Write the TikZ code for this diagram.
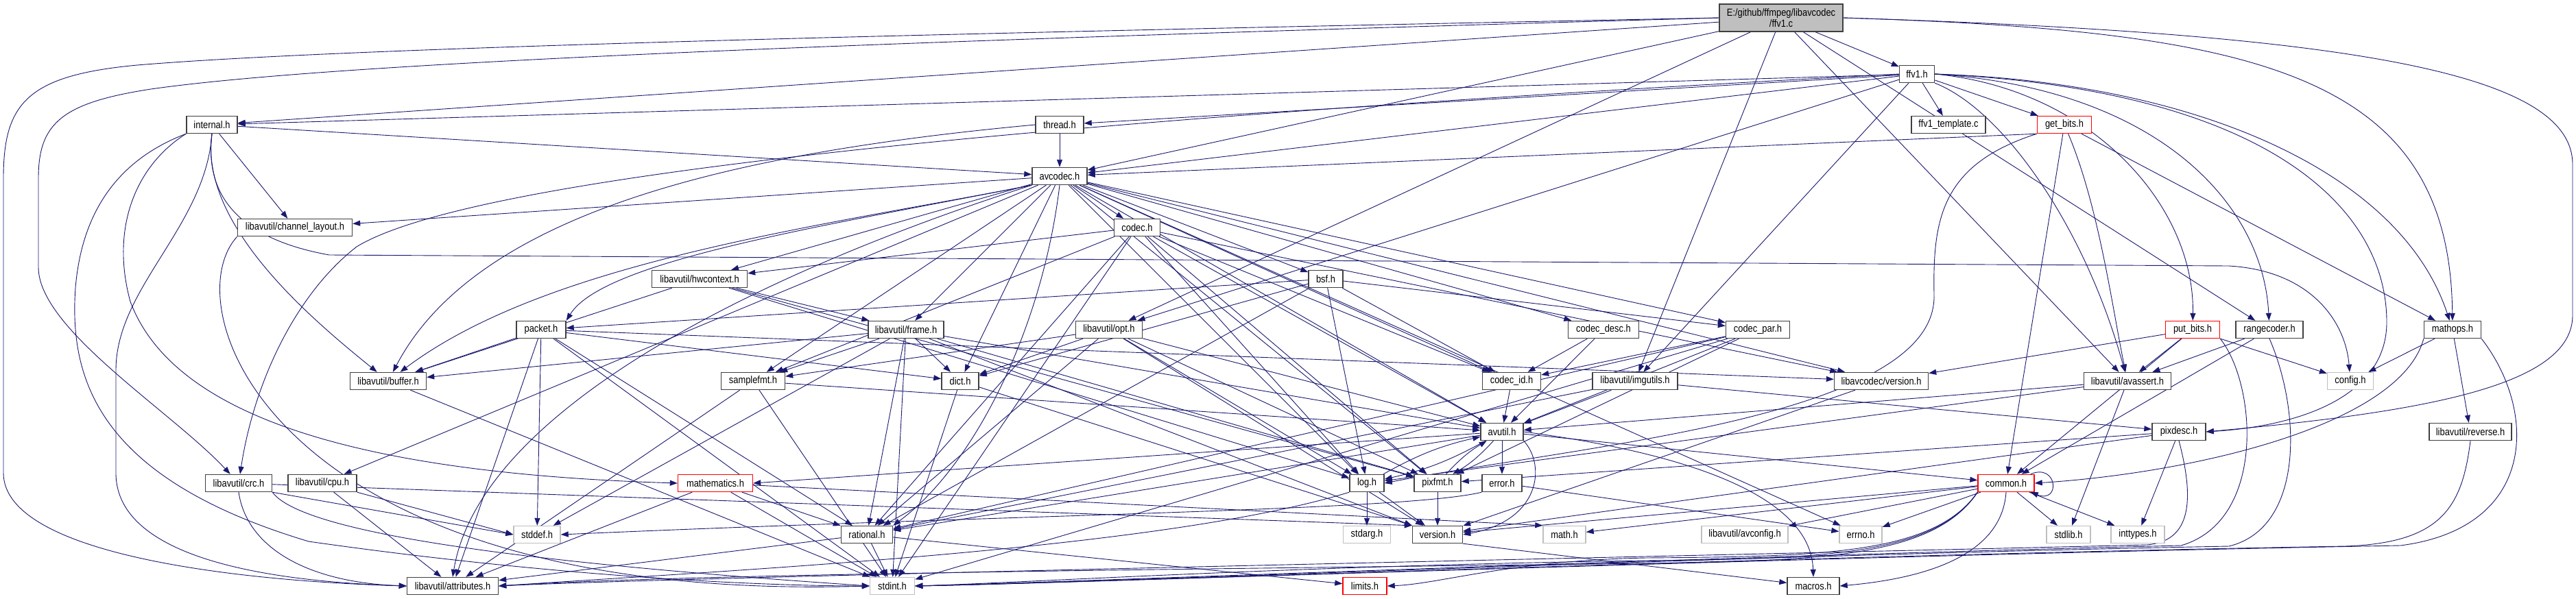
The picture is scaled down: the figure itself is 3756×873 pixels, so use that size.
\documentclass[tikz,border=0pt]{standalone}
\usepackage{fontspec}
\setmainfont[FakeStretch=0.86]{Liberation Sans}
\usetikzlibrary{arrows.meta}
\pgfdeclarelayer{bg}
\pgfsetlayers{bg,main}
\definecolor{edgec}{HTML}{191970}
\definecolor{nbord}{HTML}{404040}
\definecolor{gbord}{HTML}{BFBFBF}
\definecolor{rootfill}{HTML}{BFBFBF}
\definecolor{redb}{HTML}{FF0000}
\begin{document}
\begin{tikzpicture}[x=1pt,y=-1pt,
  box/.style={draw=nbord, line width=1.4pt, fill=white, minimum height=25, inner sep=0pt, font=\fontsize{15}{18}\selectfont, text=black},
  redbox/.style={box, draw=redb},
  graybox/.style={box, draw=gbord},
  e/.style={draw=edgec, line width=0.9pt, -{Triangle[length=11pt,width=8pt]}}]
\useasboundingbox (0,0) rectangle (3756,873);
% nodes
\node[box,minimum width=180,minimum height=40,fill=rootfill,align=center,font=\fontsize{15}{16}\selectfont] (root) at (2597,26) {E:/github/ffmpeg/libavcodec\\/ffv1.c};
\node[box,minimum width=51] (ffv1h) at (2795,108) {ffv1.h};
\node[box,minimum width=74] (internal) at (309,182) {internal.h};
\node[box,minimum width=70] (thread) at (1545,182) {thread.h};
\node[box,minimum width=108] (template) at (2841,182) {ffv1\_template.c};
\node[redbox,minimum width=79] (getbits) at (3010,182) {get\_bits.h};
\node[box,minimum width=80] (avcodec) at (1545,257) {avcodec.h};
\node[box,minimum width=167] (chlayout) at (430,332) {libavutil/channel\_layout.h};
\node[box,minimum width=67] (codec) at (1658,332) {codec.h};
\node[box,minimum width=139] (hwctx) at (1020,407) {libavutil/hwcontext.h};
\node[box,minimum width=50] (bsf) at (1933,407) {bsf.h};
\node[box,minimum width=72] (packet) at (789,481) {packet.h};
\node[box,minimum width=110] (frame) at (1321,481) {libavutil/frame.h};
\node[box,minimum width=97] (opt) at (1617,481) {libavutil/opt.h};
\node[box,minimum width=103] (codecdesc) at (2338,481) {codec\_desc.h};
\node[box,minimum width=93] (codecpar) at (2563,481) {codec\_par.h};
\node[redbox,minimum width=79] (putbits) at (3197,481) {put\_bits.h};
\node[box,minimum width=98] (rangecoder) at (3309,481) {rangecoder.h};
\node[box,minimum width=83] (mathops) at (3576,481) {mathops.h};
\node[box,minimum width=111] (buffer) at (566,556) {libavutil/buffer.h};
\node[box,minimum width=93] (samplefmt) at (1098,556) {samplefmt.h};
\node[box,minimum width=54] (dict) at (1400,556) {dict.h};
\node[box,minimum width=85] (codecid) at (2204,556) {codec\_id.h};
\node[box,minimum width=124] (imgutils) at (2384,556) {libavutil/imgutils.h};
\node[box,minimum width=137] (lcversion) at (2743,556) {libavcodec/version.h};
\node[box,minimum width=127] (avassert) at (3102,556) {libavutil/avassert.h};
\node[graybox,minimum width=67] (config) at (3427,556) {config.h};
\node[box,minimum width=62] (avutil) at (2190,630) {avutil.h};
\node[box,minimum width=78] (pixdesc) at (3177,630) {pixdesc.h};
\node[box,minimum width=120] (reverse) at (3602,630) {libavutil/reverse.h};
\node[box,minimum width=97] (crc) at (348,705) {libavutil/crc.h};
\node[box,minimum width=100] (cpu) at (470,705) {libavutil/cpu.h};
\node[redbox,minimum width=109] (mathematics) at (1043,705) {mathematics.h};
\node[box,minimum width=50] (log) at (1993,705) {log.h};
\node[box,minimum width=68] (pixfmt) at (2096,705) {pixfmt.h};
\node[box,minimum width=58] (error) at (2190,705) {error.h};
\node[redbox,minimum width=82] (common) at (2925,705) {common.h};
\node[graybox,minimum width=68] (stddef) at (783,780) {stddef.h};
\node[box,minimum width=75] (rational) at (1264,780) {rational.h};
\node[graybox,minimum width=69] (stdarg) at (1993,780) {stdarg.h};
\node[box,minimum width=73] (version) at (2096,780) {version.h};
\node[graybox,minimum width=62] (math) at (2281,780) {math.h};
\node[graybox,minimum width=126] (avconfig) at (2544,780) {libavutil/avconfig.h};
\node[graybox,minimum width=62] (errno) at (2713,780) {errno.h};
\node[graybox,minimum width=64] (stdlib) at (3016,780) {stdlib.h};
\node[graybox,minimum width=78] (inttypes) at (3117,780) {inttypes.h};
\node[box,minimum width=133] (attributes) at (660,855) {libavutil/attributes.h};
\node[graybox,minimum width=65] (stdint) at (1301,855) {stdint.h};
\node[redbox,minimum width=64] (limits) at (1990,855) {limits.h};
\node[box,minimum width=76] (macros) at (2644,855) {macros.h};
\begin{pgfonlayer}{bg}
\fill[white] (0,0) rectangle (3756,873);
% root
\draw[e] (root) -- (ffv1h);
\draw[e] (root) -- (internal);
\draw[e] (root) -- (avcodec);
\draw[e] (root) -- (opt);
\draw[e] (root) -- (imgutils);
\draw[e] (root) -- (avassert);
\draw[e] (root) -- (rangecoder);
\draw[e] (root.east) .. controls (3300,45) and (3572,110) .. (mathops);
\draw[e] (root.east) .. controls (3450,50) and (3751,110) .. (3751,240) -- (3751,460) .. controls (3751,560) and (3550,600) .. (pixdesc.east);
\draw[e] (root.west) .. controls (1300,50) and (500,70) .. (200,95) .. controls (40,110) and (5,150) .. (5,260) -- (5,690) .. controls (5,810) and (350,848) .. (attributes.west);
\draw[e] (root.west) .. controls (1300,60) and (500,90) .. (220,130) .. controls (90,150) and (56,180) .. (56,260) -- (56,390) .. controls (56,480) and (250,600) .. (crc);
% ffv1.h
\draw[e] (ffv1h) -- (internal);
\draw[e] (ffv1h) -- (avcodec);
\draw[e] (ffv1h) -- (thread);
\draw[e] (ffv1h) -- (template);
\draw[e] (ffv1h) -- (getbits);
\draw[e] (ffv1h.east) .. controls (3050,130) and (3200,300) .. (putbits);
\draw[e] (ffv1h.east) .. controls (3150,130) and (3300,300) .. (rangecoder);
\draw[e] (ffv1h.east) .. controls (3200,120) and (3500,250) .. (mathops);
\draw[e] (ffv1h.south east) .. controls (2920,160) and (3040,330) .. (avassert);
\draw[e] (ffv1h) -- (opt);
\draw[e] (ffv1h) -- (imgutils);
\draw[e] (ffv1h.east) .. controls (3300,130) and (3480,300) .. (3480,470) .. controls (3480,580) and (3350,622) .. (pixdesc.east);
\draw[e] (ffv1h.west) .. controls (1600,170) and (700,250) .. (520,360) .. controls (430,430) and (370,560) .. (crc);
% internal.h
\draw[e] (internal) -- (avcodec);
\draw[e] (internal) -- (chlayout);
\draw[e] (internal.south) .. controls (300,270) and (330,345) .. (480,372) -- (3250,388) .. controls (3370,395) and (3420,470) .. (config);
\draw[e] (internal.south) .. controls (290,330) and (460,470) .. (buffer);
\draw[e] (internal.south west) .. controls (180,230) and (120,300) .. (110,420) .. controls (100,560) and (150,700) .. (450,790) .. controls (800,840) and (1100,855) .. (stdint.west);
\draw[e] (internal.south west) .. controls (200,240) and (160,330) .. (190,440) .. controls (250,600) and (500,690) .. (mathematics.west);
\draw[e] (internal.south) .. controls (300,330) and (169,420) .. (169,540) -- (169,690) .. controls (169,830) and (450,850) .. (attributes.west);
% thread.h
\draw[e] (thread) -- (avcodec);
\draw[e] (thread.west) .. controls (1100,220) and (700,300) .. (buffer);
% get_bits.h
\draw[e] (getbits.south west) -- (avcodec);
\draw[e] (getbits.south west) .. controls (2830,240) and (2818,320) .. (2820,430) .. controls (2825,610) and (2300,650) .. (log.east);
\draw[e] (getbits) -- (common);
\draw[e] (getbits) .. controls (3060,300) and (3080,450) .. (avassert);
\draw[e] (getbits) -- (mathops);
% put_bits.h
\draw[e] (putbits) -- (config);
\draw[e] (putbits) -- (avassert);
\draw[e] (putbits) -- (lcversion);
\draw[e] (putbits) -- (common);
\draw[e] (putbits.south east) .. controls (3290,560) and (3305,760) .. (3180,796) .. controls (2500,812) and (1600,848) .. (stdint.east);
% rangecoder.h
\draw[e] (rangecoder) -- (avassert);
\draw[e] (rangecoder) -- (common);
\draw[e] (rangecoder.south) .. controls (3355,600) and (3360,770) .. (3250,797) .. controls (2550,810) and (1600,850) .. (stdint.east);
% mathops.h
\draw[e] (mathops) -- (config);
\draw[e] (mathops) -- (reverse);
\draw[e] (mathops.south west) .. controls (3500,620) and (3200,690) .. (common.east);
\draw[e] (mathops.south east) .. controls (3700,600) and (3700,770) .. (3500,796) .. controls (2700,810) and (1600,850) .. (stdint.east);
% reverse.h
\draw[e] (reverse.south) .. controls (3590,740) and (3560,792) .. (3420,797) .. controls (2650,810) and (1600,850) .. (stdint.east);
% pixdesc.h
\draw[e] (pixdesc) -- (inttypes);
\draw[e] (pixdesc) -- (pixfmt);
\draw[e] (pixdesc) -- (version);
\draw[e] (pixdesc.south) .. controls (3200,730) and (3195,790) .. (3130,795) .. controls (2300,815) and (1000,842) .. (attributes.east);
% avassert.h
\draw[e] (avassert) -- (stdlib);
\draw[e] (avassert) -- (avutil);
\draw[e] (avassert) -- (log);
% libavcodec/version.h
\draw[e] (lcversion) -- (version);
% imgutils
\draw[e] (imgutils) -- (avutil);
\draw[e] (imgutils) -- (pixdesc);
\draw[e] (imgutils) -- (rational);
% codec_par
\draw[e] (codecpar) -- (codecid);
\draw[e] (codecpar) -- (avutil);
\draw[e] (codecpar) -- (pixfmt);
\draw[e] (codecpar) -- (rational);
\draw[e] (codecpar) -- (stdint);
% codec_desc, codec_id
\draw[e] (codecdesc) -- (codecid);
\draw[e] (codecdesc) -- (avutil);
\draw[e] (codecid) -- (avutil);
% avcodec.h
\draw[e] (avcodec) -- (errno);
\draw[e] (avcodec) -- (samplefmt);
\draw[e] (avcodec.south west) .. controls (1100,400) and (700,600) .. (attributes.north);
\draw[e] (avcodec) -- (avutil);
\draw[e] (avcodec.south west) .. controls (1200,330) and (800,380) .. (buffer);
\draw[e] (avcodec) -- (cpu);
\draw[e] (avcodec) -- (chlayout);
\draw[e] (avcodec) -- (dict);
\draw[e] (avcodec) -- (frame);
\draw[e] (avcodec) -- (hwctx);
\draw[e] (avcodec) -- (log);
\draw[e] (avcodec) -- (pixfmt);
\draw[e] (avcodec.south) .. controls (1520,480) and (1420,680) .. (rational.north east);
\draw[e] (avcodec) -- (bsf);
\draw[e] (avcodec) -- (codec);
\draw[e] (avcodec) -- (codecdesc);
\draw[e] (avcodec) -- (codecpar);
\draw[e] (avcodec) -- (codecid);
\draw[e] (avcodec.south west) .. controls (1200,330) and (880,380) .. (packet.north east);
\draw[e] (avcodec) -- (lcversion);
% codec.h
\draw[e] (codec) -- (stdint);
\draw[e] (codec) -- (avutil);
\draw[e] (codec) -- (hwctx);
\draw[e] (codec) -- (log);
\draw[e] (codec) -- (pixfmt);
\draw[e] (codec) -- (rational);
\draw[e] (codec) -- (samplefmt);
\draw[e] (codec) -- (codecid);
\draw[e] (codec) -- (lcversion);
% bsf.h
\draw[e] (bsf) -- (dict);
\draw[e] (bsf) -- (log);
\draw[e] (bsf) -- (rational);
\draw[e] (bsf) -- (codecid);
\draw[e] (bsf) -- (codecpar);
\draw[e] (bsf) -- (packet);
% packet.h
\draw[e] (packet) -- (stddef);
\draw[e] (packet) -- (stdint);
\draw[e] (packet) -- (attributes);
\draw[e] (packet) -- (buffer);
\draw[e] (packet) -- (dict);
\draw[e] (packet) -- (rational);
\draw[e] (packet) -- (lcversion);
% hwcontext.h
\draw[e] (hwctx) -- (buffer);
\draw[e] (hwctx) -- (frame);
\draw[e] (hwctx) -- (log);
\draw[e] (hwctx) -- (pixfmt);
% frame.h
\draw[e] (frame) -- (stddef);
\draw[e] (frame) -- (stdint);
\draw[e] (frame) -- (avutil);
\draw[e] (frame) -- (buffer);
\draw[e] (frame) -- (dict);
\draw[e] (frame) -- (rational);
\draw[e] (frame) -- (samplefmt);
\draw[e] (frame) -- (pixfmt);
\draw[e] (frame) -- (version.north west);
% opt.h
\draw[e] (opt) -- (rational);
\draw[e] (opt) -- (avutil);
\draw[e] (opt) -- (dict);
\draw[e] (opt) -- (log);
\draw[e] (opt) -- (pixfmt);
\draw[e] (opt) -- (samplefmt);
\draw[e] (opt) -- (version);
% dict, samplefmt, buffer, channel_layout
\draw[e] (dict) -- (stdint);
\draw[e] (dict) -- (version.north west);
\draw[e] (samplefmt) -- (stdint);
\draw[e] (samplefmt) -- (avutil);
\draw[e] (samplefmt) -- (attributes);
\draw[e] (buffer) -- (stdint);
\draw[e] (chlayout.south west) .. controls (250,450) and (400,880) .. (stdint.west);
% crc.h, cpu.h
\draw[e] (crc.south east) .. controls (450,790) and (900,830) .. (stdint.west);
\draw[e] (crc.south east) -- (stddef.west);
\draw[e] (crc.south) .. controls (360,800) and (450,850) .. (attributes.west);
\draw[e] (crc) -- (version.north west);
\draw[e] (cpu) -- (attributes);
\draw[e] (cpu.south east) -- (stddef.west);
% mathematics.h
\draw[e] (mathematics) -- (stdint);
\draw[e] (mathematics) -- (math.north west);
\draw[e] (mathematics) -- (attributes);
\draw[e] (mathematics) -- (rational);
% avutil.h
\draw[e] (avutil) -- (common);
\draw[e] (avutil) -- (error);
\draw[e] (avutil) -- (rational);
\draw[e] (avutil.south east) .. controls (2255,680) and (2245,760) .. (version.east);
\draw[e] (avutil.east) .. controls (2450,660) and (2640,720) .. (macros.north);
\draw[e] (avutil) -- (mathematics.east);
\draw[e] (avutil) to[bend left=8] (log);
\draw[e] (log) to[bend left=8] (avutil);
\draw[e] (avutil) to[bend left=8] (pixfmt);
\draw[e] (pixfmt) to[bend left=8] (avutil);
% log.h, pixfmt.h, error.h
\draw[e] (log) -- (stdarg);
\draw[e] (log) -- (version);
\draw[e] (log.south west) .. controls (1700,800) and (1100,830) .. (attributes.east);
\draw[e] (pixfmt) -- (version);
\draw[e] (error) -- (errno);
\draw[e] (error.south west) .. controls (2050,745) and (1500,750) .. (stddef.east);
% rational.h, version.h
\draw[e] (rational) -- (stdint);
\draw[e] (rational) -- (limits);
\draw[e] (rational) -- (attributes);
\draw[e] (version.south east) -- (macros);
% common.h
\draw[e] (common) -- (errno);
\draw[e] (common) -- (inttypes);
\draw[e] (common) -- (stdlib);
\draw[e] (common) -- (avconfig);
\draw[e] (common) -- (math);
\draw[e] (common) -- (version);
\draw[e] (common.south west) .. controls (2820,810) and (2650,812) .. (2400,814) .. controls (2200,818) and (2100,852) .. (limits.east);
\draw[e] (common.south west) .. controls (2820,812) and (2650,815) .. (2400,818) .. controls (1900,825) and (1500,850) .. (stdint.east);
\draw[e] (common.south west) .. controls (2820,814) and (2650,818) .. (2400,822) .. controls (1600,832) and (1000,838) .. (attributes.east);
\draw[e] (common.south) .. controls (2920,790) and (2850,840) .. (macros.east);
\draw[e] ([xshift=-6pt]common.north east) .. controls (3000,675) and (3005,735) .. ([xshift=-6pt]common.south east);
\end{pgfonlayer}
\end{tikzpicture}
\end{document}
